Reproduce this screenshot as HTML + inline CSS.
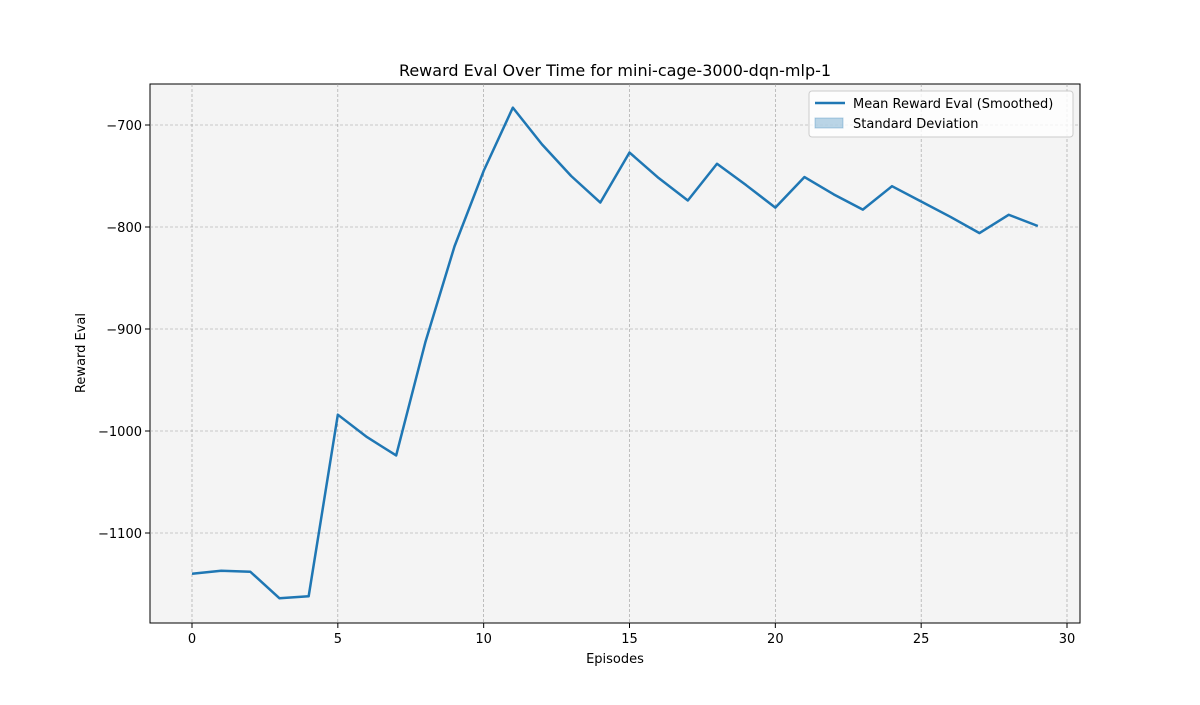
<!DOCTYPE html>
<html><head><meta charset="utf-8"><style>
body{margin:0;background:#fff;font-family:"Liberation Sans","DejaVu Sans",sans-serif}
</style></head><body>
<svg width="1200" height="700" xmlns="http://www.w3.org/2000/svg" id="chart" font-family="DejaVu Sans, Liberation Sans, sans-serif">
<rect width="1200" height="700" fill="#fff"/>
<rect x="150" y="84" width="930" height="539" fill="#f4f4f4" stroke="#000" stroke-width="1"/>
<g id="grid"></g><g id="ticks"></g><g id="series"></g>
<text x="615" y="76" text-anchor="middle" font-size="16">Reward Eval Over Time for mini-cage-3000-dqn-mlp-1</text>
<text x="615" y="663" text-anchor="middle" font-size="13">Episodes</text>
<text x="85" y="353" text-anchor="middle" font-size="13" transform="rotate(-90 85 353)">Reward Eval</text>
<g>
<rect x="809" y="91" width="264" height="46" fill="#fff" fill-opacity="0.8" stroke="#ccc" rx="3"/>
<line x1="815" y1="103" x2="845" y2="103" stroke="#1f77b4" stroke-width="2.5"/>
<text x="853" y="108" font-size="13">Mean Reward Eval (Smoothed)</text>
<rect x="815" y="118" width="28" height="10" fill="#1f77b4" fill-opacity="0.3" stroke="#1f77b4" stroke-opacity="0.3"/>
<text x="853" y="128" font-size="13">Standard Deviation</text>
</g>
</svg>
<script>
const episodes=[0,1,2,3,4,5,6,7,8,9,10,11,12,13,14,15,16,17,18,19,20,21,22,23,24,25,26,27,28,29];
const meanReward=[-1140,-1137,-1138,-1164,-1162,-984,-1006,-1024,-913,-819,-745,-683,-719,-750,-776,-727,-752,-774,-738,-759,-781,-751,-768,-783,-760,-775,-790,-806,-788,-799];
const xTicks=[0,5,10,15,20,25,30];
const yTicks=[-700,-800,-900,-1000,-1100];
const NS='http://www.w3.org/2000/svg';
const xs=v=>192+v*(1067-192)/30;
const ys=v=>125+(-700-v)*1.02;
function mk(t,a,p){const e=document.createElementNS(NS,t);for(const k in a)e.setAttribute(k,a[k]);p.appendChild(e);return e;}
const grid=document.getElementById('grid'),ticks=document.getElementById('ticks'),series=document.getElementById('series');
xTicks.forEach(t=>{const x=xs(t);
const g=mk('line',{x1:x,x2:x,y1:84,y2:623,stroke:'#999','stroke-dasharray':'3,2','stroke-width':0.6},grid);


const tk=mk('line',{x1:x,x2:x,y1:623,y2:628,stroke:'#000'},ticks);


const l=mk('text',{x:x,y:643,'text-anchor':'middle','font-size':13},ticks);l.textContent=t;

});
yTicks.forEach(t=>{const y=ys(t);
const g=mk('line',{x1:150,x2:1080,y1:y,y2:y,stroke:'#999','stroke-dasharray':'3,2','stroke-width':0.6},grid);


const tk=mk('line',{x1:145,x2:150,y1:y,y2:y,stroke:'#000'},ticks);


const l=mk('text',{x:142,y:y+5,'text-anchor':'end','font-size':13},ticks);l.textContent='\u2212'+Math.abs(t);

});
const pl=mk('polyline',{points:episodes.map((e,i)=>xs(e)+','+ys(meanReward[i])).join(' '),fill:'none',stroke:'#1f77b4','stroke-width':2.5,'stroke-linejoin':'round'},series);


</script>
</body></html>
